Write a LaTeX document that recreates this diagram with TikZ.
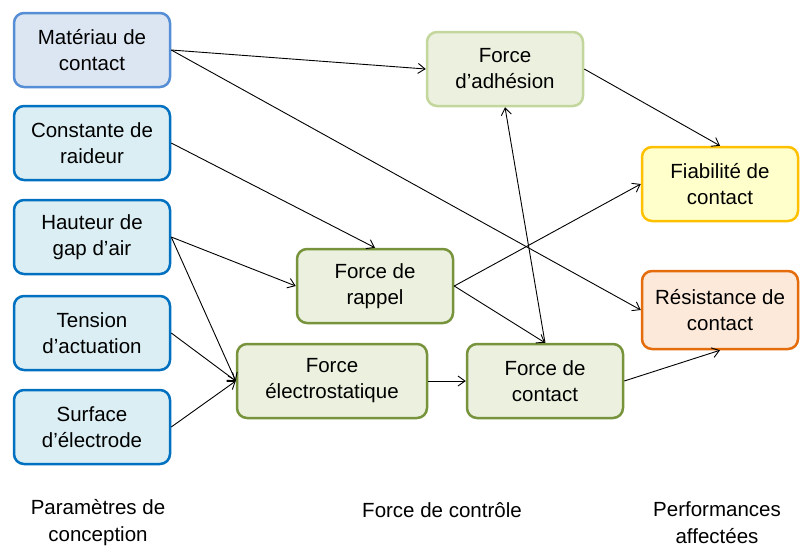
\documentclass[tikz,border=0pt]{standalone}
\usepackage{fontspec}
\setmainfont{Liberation Sans}
\usetikzlibrary{arrows.meta, positioning}

\definecolor{matfill}{HTML}{DCE6F2}
\definecolor{matdraw}{HTML}{558ED5}
\definecolor{parfill}{HTML}{DAEEF3}
\definecolor{pardraw}{HTML}{0070C0}
\definecolor{forfill}{HTML}{EBF1DE}
\definecolor{fordraw}{HTML}{77933C}
\definecolor{adhdraw}{HTML}{C3D69B}
\definecolor{fiafill}{HTML}{FFFFCC}
\definecolor{fiadraw}{HTML}{FFC000}
\definecolor{resfill}{HTML}{FDE9D9}
\definecolor{resdraw}{HTML}{E46C0A}

\begin{document}
\begin{tikzpicture}[x=1pt, y=-1pt,
  box/.style={rectangle, rounded corners=10pt, line width=2.5pt, align=center,
              minimum width=156pt, minimum height=74pt, inner sep=0pt,
              font=\fontsize{20.5}{26}\selectfont},
  param/.style={box, draw=pardraw, fill=parfill},
  force/.style={box, draw=fordraw, fill=forfill},
  link/.style={line width=0.9pt, -{Straight Barb[length=7pt, width=10pt]}},
  caption/.style={align=center, font=\fontsize{20.5}{27}\selectfont}
]
  \useasboundingbox (0,0) rectangle (800,547);

  % design parameters
  \node[box, draw=matdraw, fill=matfill] (mat) at (92, 50)  {Matériau de\\contact};
  \node[param] (cons) at (92, 143) {Constante de\\raideur};
  \node[param] (haut) at (92, 237) {Hauteur de\\gap d’air};
  \node[param] (tens) at (92, 333) {Tension\\d’actuation};
  \node[param] (surf) at (92, 427) {Surface\\d’électrode};

  % control forces
  \node[box, draw=adhdraw, fill=forfill] (adh) at (505, 69) {Force\\d’adhésion};
  \node[force] (rap)  at (375, 286) {Force de\\rappel};
  \node[force, minimum width=190pt] (elec) at (332, 381) {Force\\électrostatique};
  \node[force] (cont) at (545, 381) {Force de\\contact};

  % affected performances
  \node[box, draw=fiadraw, fill=fiafill] (fia) at (720, 184) {Fiabilité de\\contact};
  \node[box, draw=resdraw, fill=resfill, minimum height=78pt] (res) at (720, 310) {Résistance de\\contact};

  % links
  \draw[link] (mat.east) -- (adh.west);
  \draw[link] (mat.east) -- (res.west);
  \draw[link] (cons.east) -- (rap.north);
  \draw[link] (haut.east) -- (rap.west);
  \draw[link] (haut.east) -- (elec.west);
  \draw[link] (tens.east) -- (elec.west);
  \draw[link] (surf.east) -- (elec.west);
  \draw[link] (elec.east) -- (cont.west);
  \draw[link] (rap.east) -- (fia.west);
  \draw[link] (rap.east) -- (cont.north);
  \draw[link] (cont.north) -- (adh.south);
  \draw[link] (adh.east) -- (fia.north);
  \draw[link] (cont.east) -- (res.south);

  % column captions
  \node[caption] (cappar) at (98, 523) {Paramètres de\\conception};
  \node[caption] (capfor) at (442, 510) {Force de contrôle};
  \node[caption] (capper) at (717, 523) {Performances\\affectées};
\end{tikzpicture}
\end{document}
